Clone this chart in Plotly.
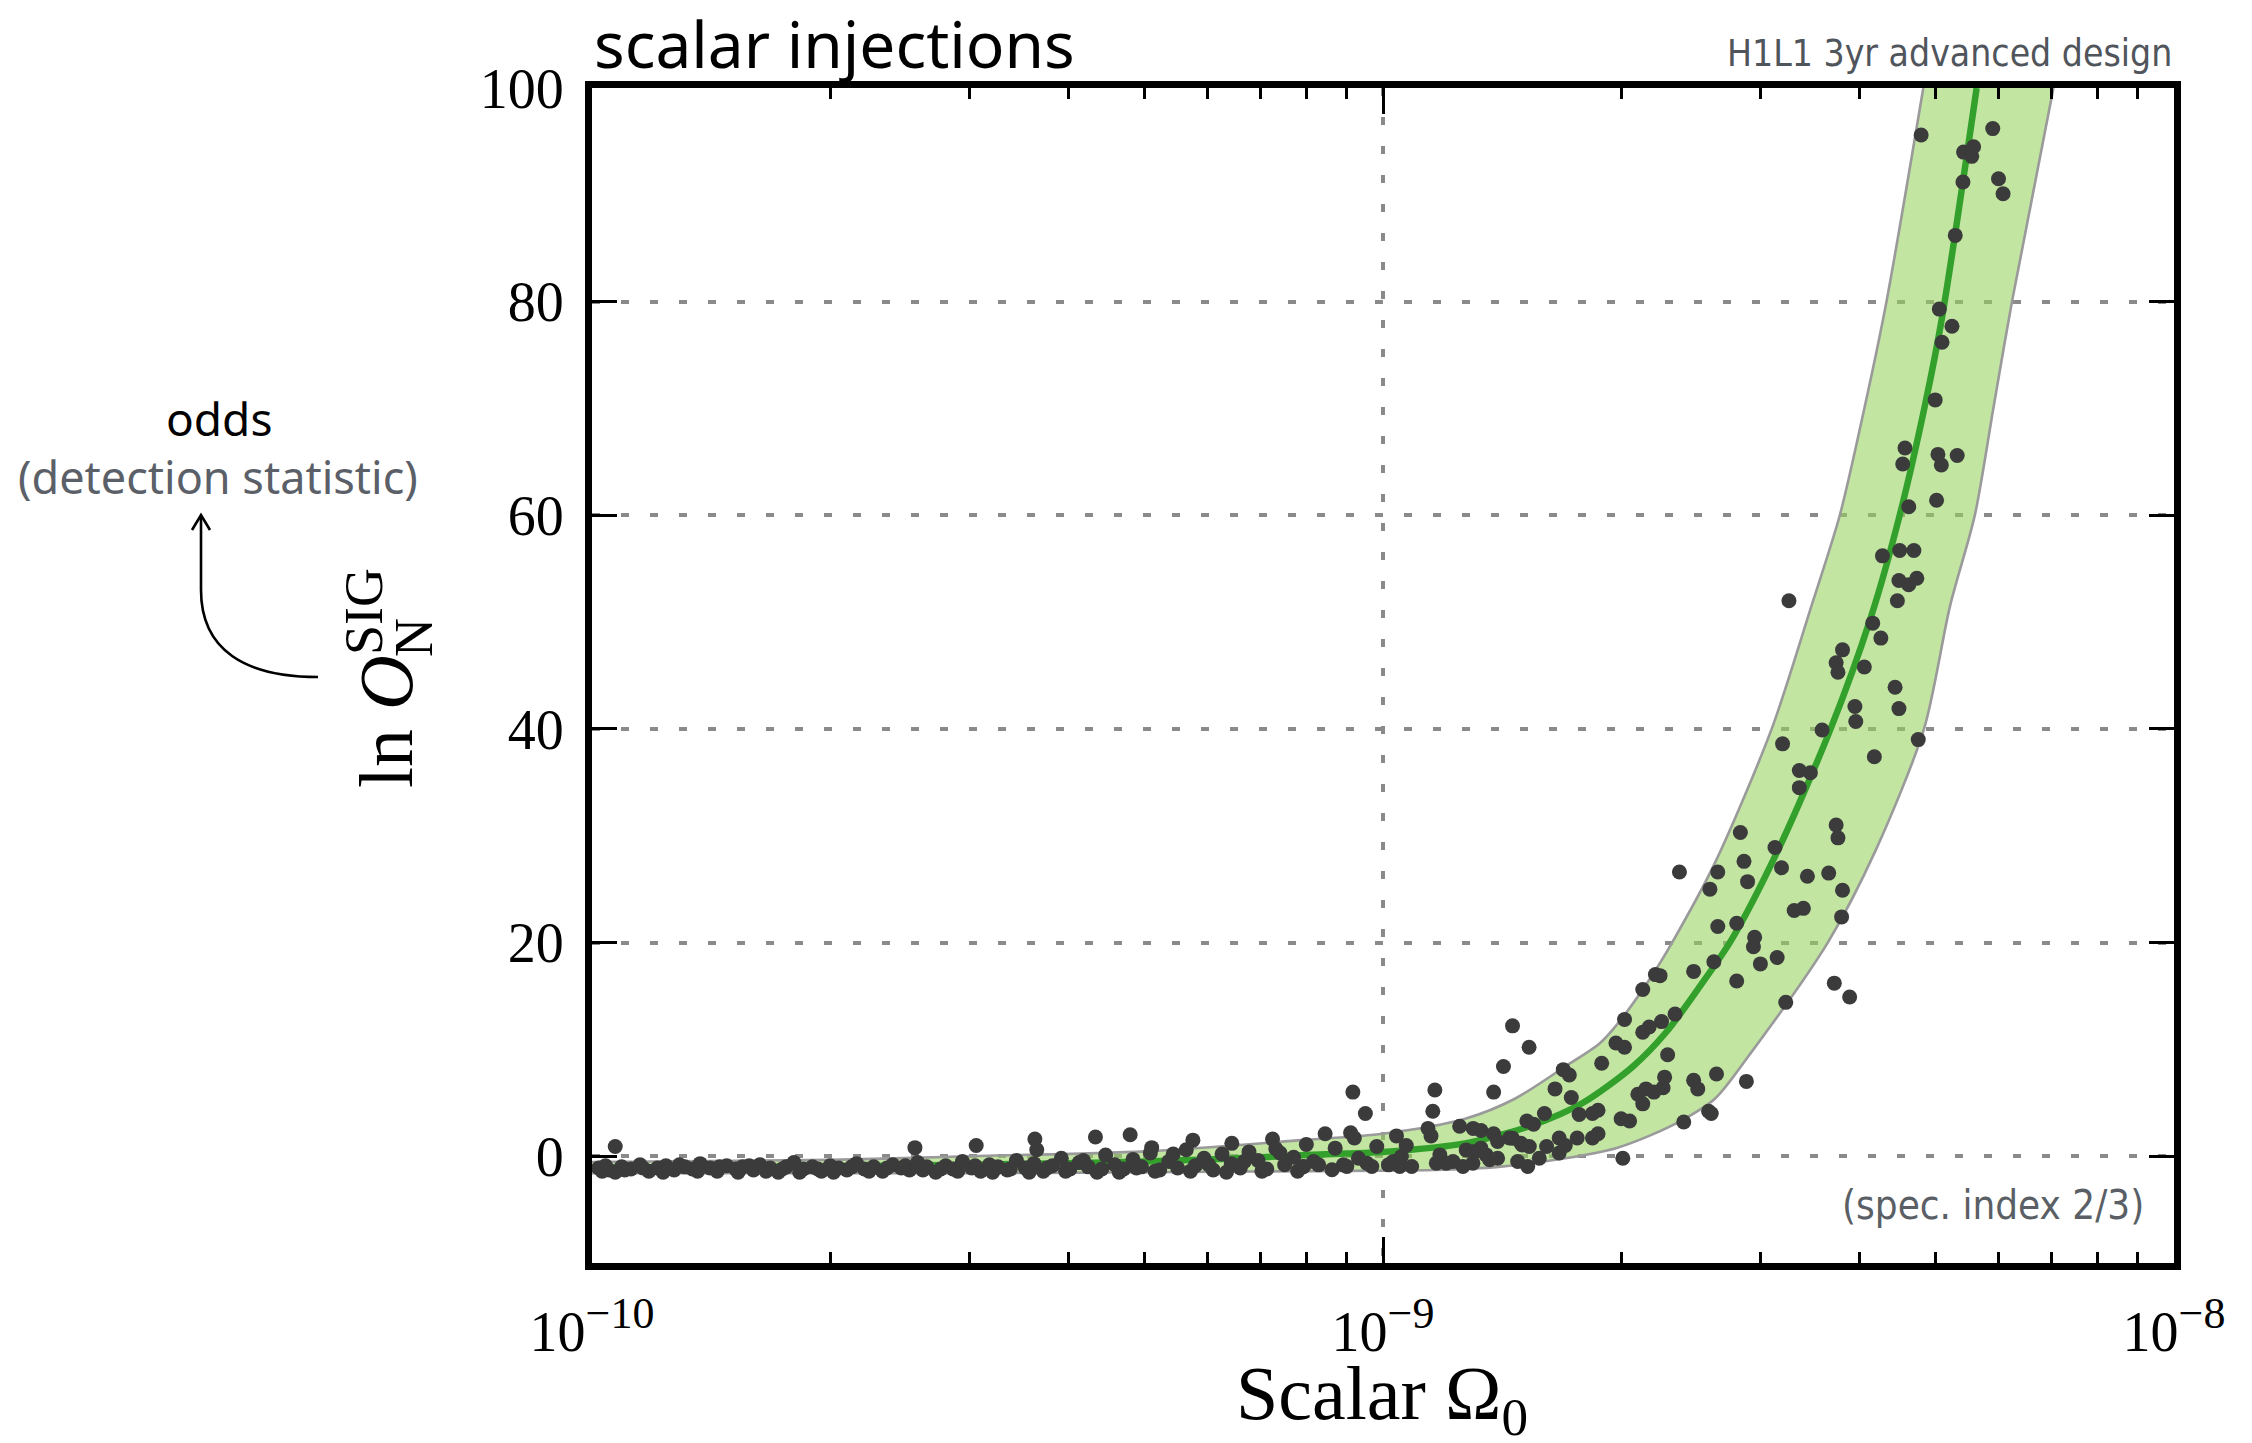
import plotly.graph_objects as go

# ---------------- data ----------------
# best-fit curve (ln odds vs scalar Omega_0)
curve_omega = [1.0e-10, 2.0e-10, 3.0e-10, 4.0e-10, 5.0e-10, 6.0e-10, 7.0e-10, 8.0e-10, 9.0e-10,
               1.0e-9, 1.27e-9, 1.545e-9, 1.79e-9, 2.07e-9, 2.28e-9, 2.51e-9, 2.76e-9, 3.16e-9,
               3.68e-9, 4.14e-9, 4.5e-9, 4.85e-9, 5.09e-9, 5.63e-9]
curve_lnO = [-1.05, -0.95, -0.8, -0.65, -0.5, -0.3, -0.1, 0.1, 0.25,
             0.4, 1.2, 2.9, 5.0, 8.4, 11.6, 15.8, 20.3, 28.7,
             40.0, 50.5, 60.0, 70.5, 78.5, 100.0]

# band edges
band_upper_omega = [1.0e-10, 2.0e-10, 3.0e-10, 5.0e-10, 7.9e-10, 1.0e-9, 1.27e-9, 1.47e-9, 1.70e-9,
                    1.875e-9, 1.97e-9, 2.17e-9, 2.32e-9, 2.63e-9, 3.1e-9, 3.48e-9, 3.78e-9, 4.06e-9,
                    4.33e-9, 4.82e-9]
band_upper_lnO = [-0.55, -0.35, 0.0, 0.45, 1.5, 2.1, 3.5, 5.4, 8.4,
                  10.5, 12.2, 16.5, 20.0, 27.5, 40.0, 51.5, 60.0, 70.0,
                  80.0, 100.0]
band_lower_omega = [1.0e-10, 3.0e-10, 5.0e-10, 1.0e-9, 1.156e-9, 1.40e-9, 1.70e-9, 1.97e-9, 2.17e-9,
                    2.38e-9, 2.63e-9, 2.90e-9, 3.65e-9, 4.2e-9, 4.83e-9, 5.21e-9, 5.6e-9, 5.91e-9,
                    6.24e-9, 7.04e-9]
band_lower_lnO = [-1.6, -1.6, -1.5, -1.35, -1.3, -1.0, -0.2, 0.75, 1.9,
                  3.3, 5.4, 9.4, 20.0, 28.7, 40.0, 51.5, 60.0, 70.0,
                  80.0, 100.0]

# injections (scatter points)
inj_omega = [
    1.02e-10, 1.04e-10, 1.05e-10, 1.07e-10, 1.07e-10, 1.09e-10, 1.12e-10, 1.15e-10, 1.18e-10, 1.21e-10,
    1.24e-10, 1.27e-10, 1.31e-10, 1.34e-10, 1.37e-10, 1.41e-10, 1.44e-10, 1.48e-10, 1.52e-10, 1.55e-10,
    1.60e-10, 1.63e-10, 1.68e-10, 1.72e-10, 1.76e-10, 1.80e-10, 1.85e-10, 1.90e-10, 1.95e-10, 2.00e-10,
    2.05e-10, 2.10e-10, 2.16e-10, 2.21e-10, 2.27e-10, 2.33e-10, 2.40e-10, 2.46e-10, 2.52e-10, 2.56e-10,
    2.58e-10, 2.65e-10, 2.72e-10, 2.80e-10, 2.86e-10, 2.94e-10, 3.02e-10, 3.06e-10, 3.10e-10, 3.18e-10,
    3.26e-10, 3.35e-10, 3.44e-10, 3.53e-10, 3.62e-10, 3.63e-10, 3.65e-10, 3.72e-10, 3.82e-10, 3.92e-10,
    4.02e-10, 4.13e-10, 4.24e-10, 4.33e-10, 4.35e-10, 4.46e-10, 4.58e-10, 4.70e-10, 4.79e-10, 4.83e-10,
    4.95e-10, 5.08e-10, 5.10e-10, 5.22e-10, 5.36e-10, 5.50e-10, 5.64e-10, 5.75e-10, 5.79e-10, 5.94e-10,
    6.10e-10, 6.26e-10, 6.43e-10, 6.44e-10, 6.60e-10, 6.77e-10, 6.95e-10, 7.13e-10, 7.25e-10, 7.32e-10,
    7.51e-10, 7.71e-10, 7.91e-10,
    1.03e-10, 1.10e-10, 1.16e-10, 1.23e-10, 1.29e-10, 1.36e-10, 1.45e-10, 1.53e-10, 1.58e-10, 1.66e-10,
    1.74e-10, 1.83e-10, 1.93e-10, 2.02e-10, 2.13e-10, 2.24e-10, 2.36e-10, 2.49e-10, 2.62e-10, 2.76e-10,
    2.90e-10, 3.05e-10, 3.21e-10, 3.38e-10, 3.57e-10, 3.76e-10, 3.97e-10, 4.18e-10, 4.41e-10, 4.64e-10,
    4.88e-10, 5.15e-10, 5.43e-10, 5.71e-10, 6.02e-10, 6.34e-10, 6.68e-10, 7.03e-10, 7.41e-10, 7.80e-10,
    7.94e-10, 8.00e-10, 8.17e-10, 8.29e-10, 8.45e-10, 8.62e-10, 8.70e-10, 8.91e-10, 9.00e-10, 9.10e-10,
    9.16e-10, 9.20e-10, 9.31e-10, 9.50e-10, 9.54e-10, 9.68e-10, 9.82e-10,
    1.016e-9, 1.03e-9, 1.04e-9, 1.05e-9, 1.055e-9, 1.07e-9, 1.087e-9, 1.14e-9, 1.15e-9, 1.156e-9,
    1.163e-9, 1.168e-9, 1.18e-9, 1.202e-9, 1.226e-9, 1.25e-9, 1.262e-9, 1.274e-9, 1.299e-9, 1.30e-9,
    1.306e-9, 1.33e-9, 1.33e-9, 1.35e-9, 1.364e-9, 1.38e-9, 1.38e-9, 1.396e-9, 1.396e-9, 1.42e-9,
    1.445e-9, 1.458e-9, 1.458e-9, 1.48e-9, 1.494e-9, 1.50e-9, 1.52e-9, 1.524e-9, 1.53e-9, 1.531e-9,
    1.55e-9, 1.576e-9, 1.60e-9, 1.61e-9,
    1.65e-9, 1.67e-9, 1.67e-9, 1.69e-9, 1.70e-9, 1.72e-9, 1.73e-9, 1.76e-9, 1.77e-9, 1.84e-9,
    1.84e-9, 1.87e-9, 1.87e-9, 1.89e-9, 1.97e-9, 2.00e-9, 2.01e-9, 2.02e-9, 2.02e-9, 2.05e-9,
    2.10e-9, 2.13e-9, 2.13e-9, 2.13e-9, 2.15e-9, 2.17e-9, 2.20e-9, 2.21e-9, 2.24e-9, 2.25e-9,
    2.26e-9, 2.27e-9, 2.29e-9, 2.34e-9, 2.37e-9, 2.40e-9, 2.47e-9, 2.47e-9, 2.50e-9, 2.58e-9,
    2.59e-9, 2.60e-9, 2.62e-9, 2.64e-9, 2.65e-9, 2.65e-9, 2.80e-9, 2.80e-9, 2.83e-9, 2.86e-9,
    2.88e-9, 2.89e-9, 2.94e-9, 2.95e-9,
    3.00e-9, 3.13e-9, 3.15e-9, 3.19e-9, 3.20e-9, 3.23e-9, 3.26e-9, 3.31e-9, 3.36e-9, 3.36e-9,
    3.40e-9, 3.44e-9, 3.47e-9, 3.59e-9, 3.66e-9, 3.72e-9, 3.74e-9, 3.74e-9, 3.76e-9, 3.76e-9,
    3.80e-9, 3.81e-9, 3.81e-9, 3.89e-9, 3.95e-9, 3.96e-9, 4.06e-9, 4.16e-9, 4.18e-9, 4.26e-9,
    4.28e-9, 4.44e-9, 4.47e-9, 4.49e-9, 4.49e-9, 4.50e-9, 4.54e-9, 4.57e-9, 4.62e-9, 4.62e-9,
    4.69e-9, 4.73e-9, 4.75e-9, 4.79e-9, 4.99e-9, 5.01e-9, 5.03e-9, 5.05e-9, 5.08e-9, 5.09e-9,
    5.24e-9, 5.29e-9, 5.32e-9, 5.41e-9, 5.42e-9, 5.55e-9, 5.58e-9, 5.90e-9, 6.00e-9, 6.08e-9,
]
inj_lnO = [
    -1.1, -0.9, -1.3, 0.9, -1.5, -1.0, -1.2, -0.8, -1.4, -1.1,
    -0.9, -1.3, -1.0, -1.2, -0.7, -1.1, -1.4, -0.9, -1.2, -1.0,
    -1.3, -0.8, -1.1, -1.5, -1.0, -0.6, -1.2, -1.0, -1.4, -0.9,
    -1.1, -1.3, -0.7, -1.2, -1.0, -1.4, -0.8, -1.1, -1.3, 0.8,
    -0.6, -1.0, -1.5, -0.9, -1.2, -0.5, -1.1, 1.0, -1.4, -0.8,
    -1.0, -1.3, -0.4, -1.1, -0.7, 1.6, 0.6, -1.4, -0.9, -0.2,
    -1.2, -0.6, -1.0, 1.8, -1.5, 0.1, -0.8, -1.2, 2.0, -0.3,
    -1.0, 0.3, 0.8, -1.3, -0.5, -1.1, 0.6, 1.5, -0.9, -0.2,
    -1.3, 0.2, -0.7, 1.2, -1.1, 0.4, -0.4, -1.2, 1.6, 0.7,
    -0.8, -0.1, -1.0,
    -1.4, -1.3, -1.1, -1.5, -0.8, -1.4, -1.0, -1.5, -0.9, -1.4,
    -1.2, -1.5, -1.2, -1.5, -1.0, -1.4, -1.1, -0.9, -1.3, -1.2,
    -1.4, -0.9, -1.5, -1.2, -1.5, -1.1, -1.4, -0.4, -1.2, -1.5,
    -1.1, -1.4, 0.2, -1.4, -0.8, -1.5, -0.5, -1.4, 0.3, -1.4,
    -0.96, 1.1, -0.5, -0.81, 2.1, -1.27, 0.75, -0.81, -0.96, 2.2,
    6.0, 1.7, -0.19, 4.0, -0.65, -0.96, 0.9,
    -0.81, -0.5, 1.9, -0.96, -0.03, 1.0, -0.96, 2.6, 1.9, 4.2,
    6.2, -0.65, 0.12, -0.65, -0.5, 2.8, -0.96, 0.59, -0.65, 2.6,
    0.43, 0.75, 2.4, 0.12, -0.34, 6.0, 2.1, -0.19, 1.37, 8.4,
    1.7, 12.2, 1.68, -0.5, 1.21, 1.05, 3.3, -0.96, 10.2, 0.9,
    3.0, -0.19, 4.0, 0.9,
    6.3, 1.7, 0.3, 8.1, 1.0, 7.6, 5.5, 1.7, 3.9, 1.7,
    4.0, 2.1, 4.3, 8.7, 10.6, 3.5, -0.2, 10.2, 12.8, 3.3,
    5.8, 4.9, 11.6, 15.6, 6.3, 12.1, 6.0, 17.0, 16.9, 12.6,
    6.4, 7.4, 9.5, 13.3, 26.6, 3.2, 17.3, 7.1, 6.3, 4.2,
    25.0, 4.0, 18.2, 7.7, 21.5, 26.6, 21.8, 16.4, 30.3, 27.6,
    7.0, 25.7, 19.6, 20.5,
    18.0, 28.9, 18.6, 27.0, 38.6, 14.4, 52.0, 23.0, 36.1, 34.5,
    23.2, 26.2, 35.9, 39.9, 26.5, 16.2, 46.2, 31.0, 45.3, 29.8,
    22.4, 47.4, 24.9, 14.9, 42.1, 40.7, 45.8, 49.9, 37.4, 48.5,
    56.2, 43.9, 52.0, 41.9, 53.9, 56.7, 64.8, 66.3, 53.5, 60.8,
    56.7, 54.1, 39.0, 95.6, 70.8, 61.4, 65.7, 79.3, 64.7, 76.2,
    77.7, 86.2, 65.6, 91.2, 94.0, 93.6, 94.5, 96.2, 91.5, 90.1,
]

SUP = "<sup><span style='font-size:44px'>{}</span></sup>"
x_major_vals = [1e-10, 1e-9, 1e-8]
x_major_text = ["10" + SUP.format("\u221210"), "10" + SUP.format("\u22129"), "10" + SUP.format("\u22128")]
x_minor_vals = [2e-10, 3e-10, 4e-10, 5e-10, 6e-10, 7e-10, 8e-10, 9e-10,
                2e-9, 3e-9, 4e-9, 5e-9, 6e-9, 7e-9, 8e-9, 9e-9]
y_tick_vals = [0, 20, 40, 60, 80, 100]
y_tick_text = ["0", "20", "40", "60", "80", "100"]

# ---------------- layout geometry ----------------
W, H = 2252, 1443
L, R, T, B = 592, 2174, 88, 1263


def px(xp):
    return (xp - L) / (R - L)


def py(yp):
    return (B - yp) / (B - T)


GREEN = "#33a02c"
EDGE = "#9a9a9a"
DOT = "#3b3b3b"
GRID = "#8a8a8a"
SERIF = "Liberation Serif, Times New Roman, serif"
NARROW = "Liberation Sans Narrow, DejaVu Sans Condensed, Arial Narrow, sans-serif"

fig = go.Figure()

# band: lower edge, then upper edge filled down to it
fig.add_trace(go.Scatter(x=band_lower_omega, y=band_lower_lnO, mode="lines",
                         line=dict(color=EDGE, width=2.6, shape="spline", smoothing=0.8),
                         hoverinfo="skip", showlegend=False))
fig.add_trace(go.Scatter(x=band_upper_omega, y=band_upper_lnO, mode="lines",
                         fill="tonexty", fillcolor="rgba(150,210,95,0.58)",
                         line=dict(color=EDGE, width=2.6, shape="spline", smoothing=0.8),
                         hoverinfo="skip", showlegend=False))
# central curve
fig.add_trace(go.Scatter(x=curve_omega, y=curve_lnO, mode="lines",
                         line=dict(color=GREEN, width=6.5, shape="spline", smoothing=0.8),
                         showlegend=False))
# injections
fig.add_trace(go.Scatter(x=inj_omega, y=inj_lnO, mode="markers",
                         marker=dict(color=DOT, size=15, line=dict(width=0)),
                         showlegend=False))

axis_common = dict(
    showline=True, linecolor="black", linewidth=7, mirror="allticks",
    ticks="inside", tickwidth=2.5, tickcolor="black",
    tickfont=dict(family=SERIF, size=56, color="black"),
    showgrid=True, gridcolor=GRID, gridwidth=3.5, griddash="8px,21px",
    zeroline=False,
)
fig.update_xaxes(type="log", range=[-10, -8], tickmode="array",
                 tickvals=x_major_vals, ticktext=x_major_text, ticklen=26,
                 ticklabelstandoff=14,
                 minor=dict(ticks="inside", ticklen=11, tickwidth=2.5, tickcolor="black",
                            tickvals=x_minor_vals, showgrid=False),
                 **axis_common)
fig.update_yaxes(range=[-10, 100], tickmode="array", tickvals=y_tick_vals,
                 ticktext=y_tick_text, ticklen=25, ticklabelstandoff=10,
                 **axis_common)

annotations = [
    dict(text="scalar injections", x=px(592), y=py(43), xanchor="left", yanchor="middle",
         font=dict(family="Noto Sans", size=64, color="black")),
    dict(text="H1L1 3yr advanced design", x=px(2174), y=py(53), xanchor="right", yanchor="middle",
         font=dict(family=NARROW, size=37, color="#50555c")),
    dict(text="(spec. index 2/3)", x=px(2146), y=py(1205), xanchor="right", yanchor="middle",
         font=dict(family=NARROW, size=40, color="#5a5f66")),
    dict(text="odds", x=px(219), y=py(418), xanchor="center", yanchor="middle",
         font=dict(family="Noto Sans", size=46, color="black")),
    dict(text="(detection statistic)", x=px(218), y=py(476), xanchor="center", yanchor="middle",
         font=dict(family="Noto Sans", size=45, color="#5b6068")),
    dict(text="Scalar \u03a9<sub>0</sub>", x=px(1382), y=py(1399), xanchor="center", yanchor="middle",
         font=dict(family=SERIF, size=76, color="black")),
    # y-axis label: ln O with stacked SIG / N
    dict(text="ln <i>O</i>", x=px(386), y=py(722), textangle=-90,
         xanchor="center", yanchor="middle", font=dict(family=SERIF, size=76, color="black")),
    dict(text="SIG", x=px(364), y=py(612), textangle=-90,
         xanchor="center", yanchor="middle", font=dict(family=SERIF, size=54, color="black")),
    dict(text="N", x=px(414), y=py(638), textangle=-90,
         xanchor="center", yanchor="middle", font=dict(family=SERIF, size=54, color="black")),
]
for a in annotations:
    a.update(xref="paper", yref="paper", showarrow=False)

arrow_path = "M {},{} C {},{} {},{} {},{} L {},{}".format(
    px(318), py(677), px(245), py(677), px(201), py(650), px(201), py(590), px(201), py(516))
head_path = "M {},{} L {},{} L {},{}".format(
    px(192), py(530), px(201), py(515), px(210), py(530))
shapes = [
    dict(type="path", xref="paper", yref="paper", path=arrow_path,
         line=dict(color="black", width=2.6)),
    dict(type="path", xref="paper", yref="paper", path=head_path,
         line=dict(color="black", width=2.6)),
]

fig.update_layout(
    width=W, height=H,
    margin=dict(l=L, r=W - R, t=T, b=H - B, pad=0),
    plot_bgcolor="white", paper_bgcolor="white",
    showlegend=False,
    annotations=annotations,
    shapes=shapes,
)

fig.write_html("out.html", post_script="document.body.style.margin='0';")
